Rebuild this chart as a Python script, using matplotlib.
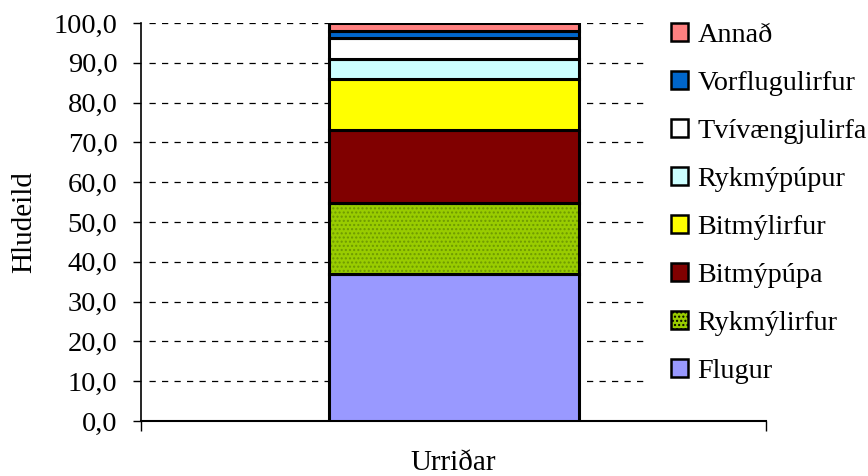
import matplotlib
matplotlib.use("Agg")
import matplotlib.pyplot as plt
from matplotlib.patches import Patch
from matplotlib.ticker import FuncFormatter

category = ["Urriðar"]
series_names = ["Flugur", "Rykmýlirfur", "Bitmýpúpa", "Bitmýlirfur",
                "Rykmýpúpur", "Tvívængjulirfa", "Vorflugulirfur", "Annað"]
series_values = [36.9, 17.9, 18.3, 12.9, 5.0, 5.3, 1.8, 1.9]
series_colors = ["#9999FF", "#99CC00", "#800000", "#FFFF00",
                 "#CCFFFF", "#FFFFFF", "#0066CC", "#FF8080"]
y_label = "Hludeild"
y_ticks = [0, 10, 20, 30, 40, 50, 60, 70, 80, 90, 100]

plt.rcParams['font.family'] = ['Liberation Serif', 'DejaVu Serif']
fig = plt.figure(figsize=(8.68, 4.76), dpi=100)
ax = fig.add_axes([141/868, 1-421/476, 625/868, 398/476])

handles = []
bottom = 0.0
for name, val, col in zip(series_names, series_values, series_colors):
    if name == "Rykmýlirfur":
        ax.bar(0, val, width=0.4, bottom=bottom, color=col, edgecolor="#6E9900",
               hatch="....", linewidth=0, zorder=3)
        ax.bar(0, val, width=0.4, bottom=bottom, fill=False, edgecolor="black",
               linewidth=2.2, zorder=4)
        handles.append(Patch(facecolor=col, edgecolor="black", hatch="....",
                             linewidth=1.8, label=name))
    else:
        ax.bar(0, val, width=0.4, bottom=bottom, color=col, edgecolor="black",
               linewidth=2.2, zorder=4)
        handles.append(Patch(facecolor=col, edgecolor="black", linewidth=1.8, label=name))
    bottom += val

ax.set_xlim(-0.5, 0.5)
ax.set_ylim(0, 100)
ax.set_yticks(y_ticks)
ax.yaxis.set_major_formatter(FuncFormatter(lambda v, p: f"{v:.1f}".replace(".", ",")))
ax.tick_params(axis='y', direction='out', length=6, width=1, pad=11, labelsize=20.5)

ax.set_xticks([-0.5, 0.5])
ax.set_xticklabels([])
ax.tick_params(axis='x', which='major', direction='out', length=7, width=1)
ax.set_xticks([0], minor=True)
ax.set_xticklabels(category, minor=True)
ax.tick_params(axis='x', which='minor', length=0, pad=21, labelsize=21)

# dashed gridlines stop where the legend area begins
ax.hlines(y_ticks[1:], 0.012, (648-141)/625, transform=ax.get_yaxis_transform(),
          colors='black', linestyles=(0, (5, 5)), linewidth=0.9, zorder=1)
for s in ['top', 'right']:
    ax.spines[s].set_visible(False)
ax.spines['left'].set_linewidth(1.2)
ax.spines['bottom'].set_linewidth(1.5)

ax.set_ylabel(y_label, fontsize=21, labelpad=12)

leg = fig.legend(handles=handles[::-1], loc='upper left',
                 bbox_to_anchor=(665/868, 1-17/476), fontsize=20.3,
                 handlelength=0.63, handleheight=0.63, handletextpad=0.32,
                 labelspacing=0.81, borderpad=0.2, borderaxespad=0,
                 frameon=False)

fig.savefig("out.png", dpi=100)
